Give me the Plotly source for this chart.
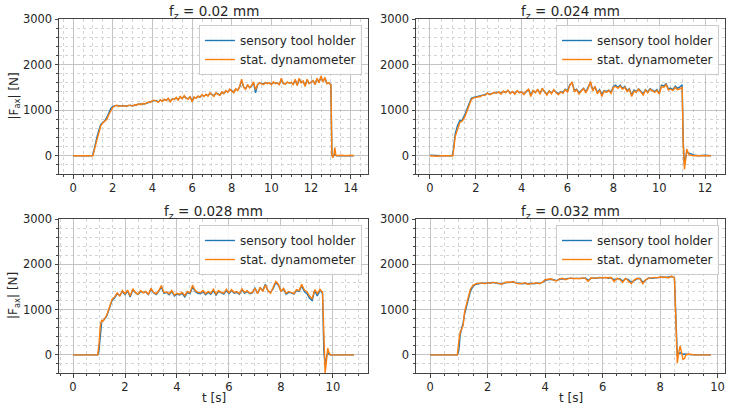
import numpy as np
import plotly.graph_objects as go

# ---------------- data ----------------
titles = ["f<sub>z</sub> = 0.02 mm", "f<sub>z</sub> = 0.024 mm",
          "f<sub>z</sub> = 0.028 mm", "f<sub>z</sub> = 0.032 mm"]
series_names = ["sensory tool holder", "stat. dynamometer"]
x_tick_step = 2
y_tick_step = 1000

# panel 1: fz = 0.02 mm
p1_t_pre = [0.0, 0.5, 0.95, 1.0, 1.1, 1.2, 1.3, 1.4, 1.5, 1.6, 1.7, 1.8, 1.9, 2.0]
p1_sens_pre = [0, 0, 0, 20, 230, 400, 560, 690, 730, 770, 840, 950, 1040, 1080]
p1_dyn_pre = [0, 0, 0, 0, 180, 350, 500, 660, 720, 750, 800, 900, 1000, 1060]
p1_plateau_start = 2.1
p1_sens_plat = [1100, 1100, 1090, 1090, 1100, 1090, 1090, 1100, 1110, 1090,
                1110, 1120, 1130, 1130, 1140, 1140, 1150, 1170, 1180, 1200,
                1210, 1210, 1180, 1220, 1200, 1230, 1220, 1250, 1200, 1240,
                1240, 1270, 1230, 1290, 1260, 1300, 1270, 1250, 1290, 1210,
                1280, 1270, 1300, 1290, 1330, 1310, 1340, 1320, 1370, 1350,
                1320, 1370, 1360, 1330, 1390, 1370, 1420, 1400, 1450, 1430,
                1400, 1460, 1440, 1510, 1650, 1510, 1470, 1550, 1500, 1530,
                1600, 1380, 1550, 1590, 1590, 1570, 1600, 1590, 1590, 1570,
                1610, 1590, 1590, 1570, 1680, 1590, 1580, 1610, 1600, 1600,
                1570, 1660, 1550, 1680, 1610, 1630, 1540, 1660, 1590, 1610,
                1640, 1570, 1690, 1610, 1730, 1630, 1700, 1590, 1590, 1560]
p1_dyn_plat = [1090, 1110, 1080, 1100, 1090, 1100, 1080, 1110, 1100, 1090,
               1120, 1110, 1140, 1120, 1150, 1130, 1160, 1180, 1170, 1210,
               1220, 1200, 1170, 1230, 1190, 1240, 1210, 1260, 1180, 1250,
               1230, 1280, 1220, 1300, 1250, 1320, 1260, 1240, 1300, 1180,
               1290, 1260, 1310, 1280, 1340, 1300, 1350, 1310, 1380, 1340,
               1300, 1380, 1350, 1320, 1400, 1360, 1430, 1390, 1460, 1420,
               1380, 1470, 1430, 1520, 1680, 1500, 1460, 1560, 1490, 1540,
               1620, 1450, 1560, 1600, 1580, 1560, 1610, 1580, 1600, 1560,
               1620, 1580, 1600, 1560, 1700, 1580, 1570, 1620, 1590, 1610,
               1560, 1680, 1540, 1700, 1600, 1640, 1520, 1680, 1580, 1620,
               1650, 1560, 1700, 1600, 1750, 1620, 1720, 1580, 1600, 1550]
p1_t_post = [13.05, 13.1, 13.15, 13.2, 13.25, 13.3, 13.5, 13.8, 14.0, 14.16]
p1_sens_post = [30, -30, 10, 30, 10, 0, 0, 10, 0, 0]
p1_dyn_post = [0, -40, 20, 180, 10, 0, 10, 0, 10, 0]

# panel 2: fz = 0.024 mm
p2_t_pre = [0.0, 0.3, 0.5, 0.95, 1.0, 1.1, 1.2, 1.3, 1.4, 1.5, 1.6, 1.7, 1.8]
p2_sens_pre = [10, 0, 0, 0, 50, 480, 660, 770, 780, 880, 1010, 1130, 1260]
p2_dyn_pre = [0, -10, 0, 0, 0, 420, 600, 730, 760, 830, 960, 1080, 1230]
p2_plateau_start = 1.9
p2_sens_plat = [1280, 1290,
                1300, 1310, 1330, 1340, 1370, 1350, 1370, 1380, 1380, 1400,
                1370, 1410, 1390, 1430, 1380, 1400, 1370, 1420, 1390, 1400,
                1360, 1410, 1450, 1330, 1430, 1390, 1450, 1370, 1470, 1410,
                1350, 1420, 1380, 1440, 1390, 1360, 1410, 1390, 1460, 1420,
                1560, 1600, 1430, 1460, 1380, 1430, 1480, 1400, 1500, 1610,
                1450, 1510, 1390, 1450, 1340, 1430, 1410, 1440, 1400, 1520,
                1550, 1500, 1550, 1480, 1520, 1430, 1470, 1330, 1440, 1410,
                1470, 1420, 1360, 1450, 1400, 1470, 1440, 1410, 1450, 1370,
                1550, 1530, 1580, 1470, 1480, 1450, 1530, 1480, 1510, 1560]
p2_dyn_plat = [1270, 1280,
               1290, 1300, 1330, 1320, 1380, 1340, 1360, 1390, 1370, 1400,
               1350, 1420, 1380, 1440, 1360, 1410, 1350, 1430, 1380, 1400,
               1340, 1420, 1460, 1300, 1440, 1380, 1460, 1350, 1480, 1400,
               1330, 1420, 1360, 1450, 1380, 1340, 1400, 1370, 1450, 1400,
               1540, 1620, 1400, 1450, 1350, 1420, 1470, 1380, 1480, 1630,
               1420, 1520, 1360, 1440, 1300, 1420, 1390, 1430, 1370, 1500,
               1520, 1480, 1530, 1460, 1500, 1410, 1460, 1300, 1420, 1390,
               1460, 1400, 1330, 1440, 1380, 1460, 1420, 1390, 1430, 1350,
               1520, 1500, 1560, 1440, 1460, 1430, 1500, 1450, 1470, 1500]
p2_t_post = [11.05, 11.1, 11.15, 11.2, 11.3, 11.4, 11.5, 11.7, 12.0, 12.26]
p2_sens_post = [300, -200, -50, 80, 60, 40, 20, 0, 10, 0]
p2_dyn_post = [200, -300, -100, 150, 20, 10, 0, 0, 0, 0]

# panel 3: fz = 0.028 mm
p3_t_pre = [0.0, 0.5, 0.9, 0.95, 1.0, 1.05, 1.1, 1.15, 1.2, 1.3, 1.4, 1.5, 1.6]
p3_sens_pre = [0, 0, 0, 0, 100, 500, 720, 760, 780, 860, 1030, 1200, 1260]
p3_dyn_pre = [0, 0, 0, 0, 250, 650, 760, 740, 790, 880, 1050, 1220, 1280]
p3_plateau_start = 1.7
p3_sens_plat = [1350, 1310, 1400, 1330,
                1410, 1280, 1440, 1370, 1330, 1400, 1380, 1390, 1330, 1450,
                1370, 1330, 1400, 1500, 1360, 1380, 1330, 1400, 1300, 1340,
                1320, 1360, 1280, 1380, 1350, 1500, 1400, 1360, 1350, 1400,
                1330, 1380, 1340, 1420, 1320, 1400, 1360, 1340, 1420, 1350,
                1420, 1360, 1380, 1340, 1440, 1360, 1400, 1350, 1370, 1480,
                1360, 1480, 1420, 1560, 1410, 1380, 1460, 1600, 1540, 1410,
                1450, 1340, 1380, 1370, 1340, 1420, 1400, 1520, 1400, 1350,
                1250, 1200, 1420, 1300, 1430, 1360]
p3_dyn_plat = [1370, 1300, 1420, 1350,
               1430, 1300, 1460, 1380, 1340, 1420, 1370, 1400, 1340, 1470,
               1380, 1350, 1420, 1530, 1380, 1390, 1350, 1420, 1320, 1360,
               1340, 1380, 1310, 1400, 1370, 1540, 1420, 1380, 1370, 1420,
               1350, 1400, 1360, 1450, 1340, 1420, 1380, 1360, 1450, 1370,
               1440, 1380, 1400, 1350, 1460, 1380, 1420, 1360, 1380, 1470,
               1350, 1490, 1400, 1540, 1420, 1360, 1480, 1620, 1560, 1400,
               1470, 1360, 1400, 1380, 1350, 1440, 1420, 1560, 1430, 1400,
               1300, 1240, 1440, 1350, 1450, 1380]
p3_t_post = [9.65, 9.7, 9.75, 9.8, 9.85, 9.9, 10.0, 10.3, 10.6, 10.81]
p3_sens_post = [100, -250, -50, 50, 10, 0, 0, 0, 0, 0]
p3_dyn_post = [300, -400, -150, 150, 50, 0, 0, 0, 0, 0]

# panel 4: fz = 0.032 mm
p4_t_pre = [0.0, 0.5, 0.95, 1.0, 1.05, 1.1, 1.15, 1.2, 1.3, 1.4, 1.5, 1.6]
p4_sens_pre = [0, 0, 0, 100, 450, 590, 700, 900, 1150, 1400, 1520, 1560]
p4_dyn_pre = [0, 0, 0, 300, 520, 560, 650, 950, 1200, 1450, 1540, 1570]
p4_plateau_start = 1.7
p4_sens_plat = [1570, 1590, 1580, 1590,
                1590, 1600, 1580, 1580, 1570, 1590, 1600, 1610, 1610, 1590,
                1580, 1570, 1580, 1570, 1580, 1570, 1580, 1580, 1600, 1640,
                1660, 1670, 1660, 1640, 1670, 1680, 1670, 1690, 1690, 1690,
                1680, 1690, 1690, 1700, 1650, 1690, 1700, 1690, 1710, 1700,
                1710, 1690, 1700, 1660, 1680, 1680, 1630, 1680, 1660, 1600,
                1640, 1680, 1690, 1600, 1650, 1700, 1690, 1700, 1710, 1710,
                1720, 1710, 1720, 1730, 1710]
p4_dyn_plat = [1580, 1590, 1570, 1600,
               1580, 1600, 1590, 1570, 1560, 1600, 1610, 1600, 1620, 1580,
               1570, 1580, 1590, 1560, 1570, 1580, 1590, 1570, 1600, 1660,
               1670, 1680, 1650, 1630, 1680, 1690, 1660, 1680, 1700, 1680,
               1690, 1680, 1700, 1690, 1620, 1700, 1690, 1700, 1700, 1710,
               1700, 1700, 1710, 1620, 1690, 1670, 1600, 1690, 1640, 1570,
               1650, 1690, 1680, 1570, 1660, 1690, 1700, 1710, 1700, 1720,
               1710, 1720, 1700, 1740, 1700]
p4_t_post = [8.55, 8.6, 8.65, 8.7, 8.75, 8.8, 8.85, 8.9, 9.0, 9.2, 9.5, 9.77]
p4_sens_post = [1000, 0, 20, 50, 30, 10, 20, 20, 10, 0, 0, 0]
p4_dyn_post = [900, -180, 50, 200, 50, -100, -80, 0, 20, 0, 0, 0]

panels = [
    (p1_t_pre, p1_sens_pre, p1_dyn_pre, p1_plateau_start, p1_sens_plat, p1_dyn_plat, p1_t_post, p1_sens_post, p1_dyn_post),
    (p2_t_pre, p2_sens_pre, p2_dyn_pre, p2_plateau_start, p2_sens_plat, p2_dyn_plat, p2_t_post, p2_sens_post, p2_dyn_post),
    (p3_t_pre, p3_sens_pre, p3_dyn_pre, p3_plateau_start, p3_sens_plat, p3_dyn_plat, p3_t_post, p3_sens_post, p3_dyn_post),
    (p4_t_pre, p4_sens_pre, p4_dyn_pre, p4_plateau_start, p4_sens_plat, p4_dyn_plat, p4_t_post, p4_sens_post, p4_dyn_post),
]
x_ranges = [[-0.71, 14.87], [-0.61, 12.87], [-0.54, 11.35], [-0.49, 10.26]]
y_range = [-400, 3000]

# ---------------- layout geometry ----------------
# the page body margin is removed below, so the figure fills the 731x411 window
W, H = 731, 411
col_px = [(59, 368), (416, 725)]
row_px = [(19, 174), (219, 373)]


def fx(px):
    return px / W


def fy(py):
    return 1 - py / H


BLUE = "#1f77b4"
ORANGE = "#ff7f0e"
FONT = "DejaVu Sans"
TXT = "#262626"

fig = go.Figure()
annotations = []
layout_axes = {}

for i, p in enumerate(panels):
    t_pre, s_pre, d_pre, t0, s_pl, d_pl, t_post, s_post, d_post = p
    t_pl = list(np.round(t0 + 0.1 * np.arange(len(s_pl)), 3))
    t = list(t_pre) + t_pl + list(t_post)
    s = list(s_pre) + list(s_pl) + list(s_post)
    d = list(d_pre) + list(d_pl) + list(d_post)
    r, c = divmod(i, 2)
    ax = "" if i == 0 else str(i + 1)
    leg = "legend" if i == 0 else f"legend{i + 1}"
    fig.add_trace(go.Scatter(x=t, y=s, mode="lines", name=series_names[0],
                             line=dict(color=BLUE, width=1.4),
                             xaxis="x" + ax, yaxis="y" + ax, legend=leg))
    fig.add_trace(go.Scatter(x=t, y=d, mode="lines", name=series_names[1],
                             line=dict(color=ORANGE, width=1.4),
                             xaxis="x" + ax, yaxis="y" + ax, legend=leg))
    x0, x1 = col_px[c]
    y0, y1 = row_px[r]
    common = dict(showline=True, mirror=True, linecolor="#444", linewidth=1,
                  ticks="outside", ticklen=3.5, tickcolor="#444", tickmode="linear", tick0=0,
                  showgrid=True, gridcolor="#c4c4c4", gridwidth=1, automargin=False,
                  zeroline=False, tickfont=dict(family=FONT, size=11.5, color=TXT))
    layout_axes["xaxis" + ax] = dict(
        domain=[fx(x0), fx(x1)], anchor="y" + ax, range=x_ranges[i], dtick=x_tick_step,
        minor=dict(dtick=0.5, tick0=0, showgrid=True, gridcolor="#d4d4d4",
                   griddash="dot", ticks="outside", ticklen=2, tickcolor="#444"),
        **common)
    layout_axes["yaxis" + ax] = dict(
        domain=[fy(y1), fy(y0)], anchor="x" + ax, range=y_range, dtick=y_tick_step,
        minor=dict(dtick=200, tick0=0, showgrid=True, gridcolor="#d4d4d4",
                   griddash="dot", ticks="outside", ticklen=2, tickcolor="#444"),
        **common)
    layout_axes[leg] = dict(
        x=fx(x1 - 6), y=fy(y0 + 6), xanchor="right", yanchor="top",
        bgcolor="rgba(255,255,255,0.85)", bordercolor="#cccccc", borderwidth=1,
        font=dict(family=FONT, size=12, color=TXT),
        itemwidth=30, tracegroupgap=0)
    annotations.append(dict(text=titles[i], x=fx((x0 + x1) / 2), y=fy(y0 - 7),
                            xref="paper", yref="paper", xanchor="center", yanchor="middle",
                            showarrow=False, font=dict(family=FONT, size=13.5, color=TXT)))
    if c == 0:
        annotations.append(dict(text="|F<sub>ax</sub>| [N]", x=fx(14), y=fy((y0 + y1) / 2),
                                xref="paper", yref="paper", xanchor="center", yanchor="middle",
                                textangle=-90, showarrow=False,
                                font=dict(family=FONT, size=12, color=TXT)))
    if r == 1:
        annotations.append(dict(text="t [s]", x=fx((x0 + x1) / 2), y=fy(398),
                                xref="paper", yref="paper", xanchor="center", yanchor="middle",
                                showarrow=False, font=dict(family=FONT, size=12, color=TXT)))

fig.update_layout(width=W, height=H, margin=dict(l=0, r=0, t=0, b=0, autoexpand=False),
                  paper_bgcolor="white", plot_bgcolor="white",
                  showlegend=True, annotations=annotations, hovermode=False,
                  font=dict(family=FONT, size=11), **layout_axes)
fig.write_html("out.html", config={"displayModeBar": False},
               post_script="document.body.style.margin='0';document.body.style.overflow='hidden';")
